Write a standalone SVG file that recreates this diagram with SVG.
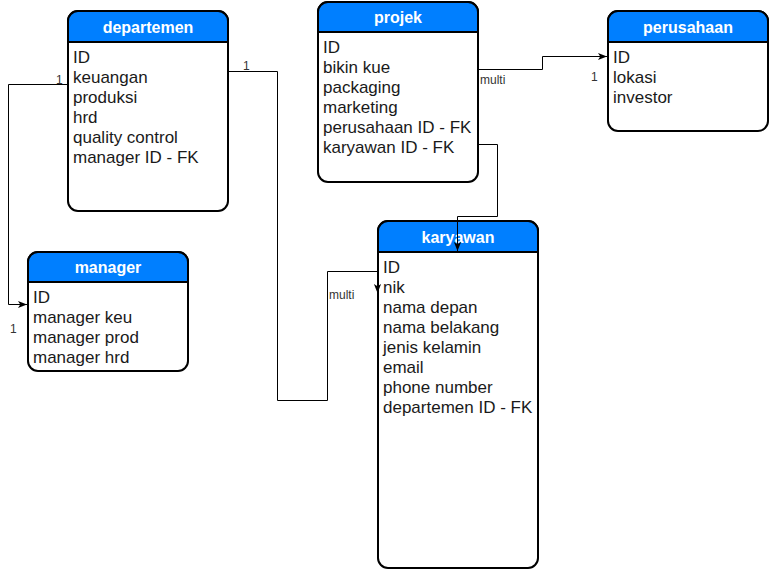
<svg xmlns="http://www.w3.org/2000/svg" width="769" height="570" viewBox="0 0 769 570">
  <style>
    .box { fill: #ffffff; stroke: #000000; stroke-width: 2; }
    .head { fill: #007FFF; stroke: #000000; stroke-width: 2; }
    .title { font-family: "Liberation Sans", Arial, sans-serif; font-size: 16px; font-weight: bold; fill: #ffffff; text-anchor: middle; }
    .attr { font-family: "Liberation Sans", Arial, sans-serif; font-size: 17px; fill: #1a1a1a; }
    .edge { fill: none; stroke: #000000; stroke-width: 1; }
    .lbl { font-family: "Liberation Sans", Arial, sans-serif; font-size: 12px; fill: #333333; }
  </style>
  <defs>
    <marker id="arrow" viewBox="0 0 10 10" refX="10" refY="5" markerWidth="9" markerHeight="9" markerUnits="userSpaceOnUse" orient="auto">
      <path d="M0,1 L10,5 L0,9 L2.5,5 Z" fill="#000000"/>
    </marker>
  </defs>

  <rect width="769" height="570" fill="#ffffff"/>

  <!-- departemen -->
  <g id="departemen">
    <rect class="box" x="68" y="11" width="160" height="200" rx="10"/>
    <path class="head" d="M68,42 V21 A10,10 0 0 1 78,11 H218 A10,10 0 0 1 228,21 V42 Z"/>
    <text class="title" x="148" y="33">departemen</text>
    <text class="attr" x="73" y="63">ID</text>
    <text class="attr" x="73" y="83">keuangan</text>
    <text class="attr" x="73" y="103">produksi</text>
    <text class="attr" x="73" y="123">hrd</text>
    <text class="attr" x="73" y="143">quality control</text>
    <text class="attr" x="73" y="163">manager ID - FK</text>
  </g>

  <!-- projek -->
  <g id="projek">
    <rect class="box" x="318" y="2" width="160" height="180" rx="10"/>
    <path class="head" d="M318,32 V12 A10,10 0 0 1 328,2 H468 A10,10 0 0 1 478,12 V32 Z"/>
    <text class="title" x="398" y="23">projek</text>
    <text class="attr" x="323" y="53">ID</text>
    <text class="attr" x="323" y="73">bikin kue</text>
    <text class="attr" x="323" y="93">packaging</text>
    <text class="attr" x="323" y="113">marketing</text>
    <text class="attr" x="323" y="133">perusahaan ID - FK</text>
    <text class="attr" x="323" y="153">karyawan ID - FK</text>
  </g>

  <!-- perusahaan -->
  <g id="perusahaan">
    <rect class="box" x="608" y="11" width="160" height="120" rx="10"/>
    <path class="head" d="M608,42 V21 A10,10 0 0 1 618,11 H758 A10,10 0 0 1 768,21 V42 Z"/>
    <text class="title" x="688" y="33">perusahaan</text>
    <text class="attr" x="613" y="63">ID</text>
    <text class="attr" x="613" y="83">lokasi</text>
    <text class="attr" x="613" y="103">investor</text>
  </g>

  <!-- manager -->
  <g id="manager">
    <rect class="box" x="28" y="252" width="160" height="119" rx="10"/>
    <path class="head" d="M28,282 V262 A10,10 0 0 1 38,252 H178 A10,10 0 0 1 188,262 V282 Z"/>
    <text class="title" x="108" y="273">manager</text>
    <text class="attr" x="33" y="303">ID</text>
    <text class="attr" x="33" y="323">manager keu</text>
    <text class="attr" x="33" y="343">manager prod</text>
    <text class="attr" x="33" y="363">manager hrd</text>
  </g>

  <!-- karyawan -->
  <g id="karyawan">
    <rect class="box" x="378" y="221" width="160" height="347" rx="10"/>
    <path class="head" d="M378,252 V231 A10,10 0 0 1 388,221 H528 A10,10 0 0 1 538,231 V252 Z"/>
    <text class="title" x="458" y="243">karyawan</text>
    <text class="attr" x="383" y="273">ID</text>
    <text class="attr" x="383" y="293">nik</text>
    <text class="attr" x="383" y="313">nama depan</text>
    <text class="attr" x="383" y="333">nama belakang</text>
    <text class="attr" x="383" y="353">jenis kelamin</text>
    <text class="attr" x="383" y="373">email</text>
    <text class="attr" x="383" y="393">phone number</text>
    <text class="attr" x="383" y="413">departemen ID - FK</text>
  </g>

  <!-- connectors, drawn over the tables -->
  <g id="connectors">
    <!-- departemen -> manager -->
    <path class="edge" d="M68,84.5 H8.5 V304.5 H27" marker-end="url(#arrow)"/>
    <text class="lbl" x="56" y="84">1</text>
    <text class="lbl" x="10" y="333">1</text>
    <!-- departemen -> karyawan -->
    <path class="edge" d="M228,71.5 H277.5 V400.5 H327.5 V271.5 H377.5 V293" marker-end="url(#arrow)"/>
    <text class="lbl" x="243" y="70">1</text>
    <text class="lbl" x="329" y="299">multi</text>
    <!-- projek -> perusahaan -->
    <path class="edge" d="M478,69.5 H542.5 V56.5 H607" marker-end="url(#arrow)"/>
    <text class="lbl" x="480" y="84">multi</text>
    <text class="lbl" x="591" y="81">1</text>
    <!-- projek -> karyawan -->
    <path class="edge" d="M478,144.5 H497.5 V216.5 H457.5 V251" marker-end="url(#arrow)"/>
  </g>
</svg>
